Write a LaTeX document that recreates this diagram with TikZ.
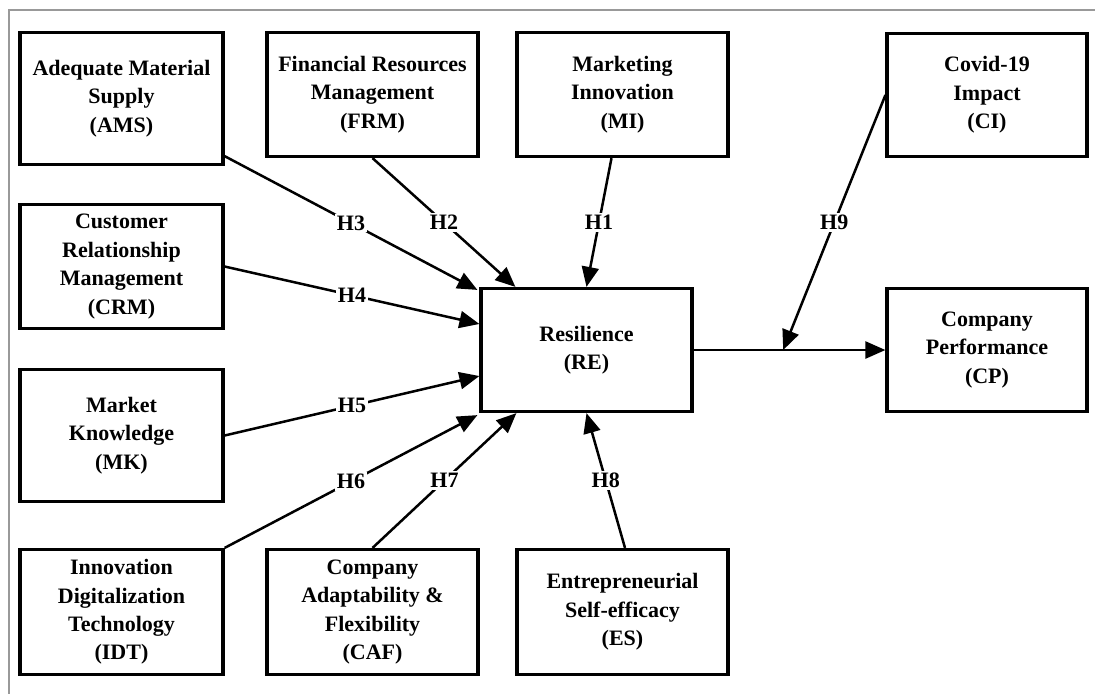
\documentclass[tikz,border=0pt]{standalone}
\usepackage{fontspec}
\setmainfont{Liberation Serif}
\usetikzlibrary{arrows.meta,calc}

\begin{document}
\begin{tikzpicture}[x=0.5pt,y=-0.5pt,>={Triangle[length=10pt,width=8.5pt]},
	blk/.style={draw,line width=1.6pt,align=center,inner sep=0pt,font=\fontsize{11}{14.2}\selectfont\bfseries},
	hyp/.style={fill=white,inner sep=1pt,font=\fontsize{11}{14}\selectfont\bfseries},
	link/.style={->,line width=1.25pt}]
		\useasboundingbox (0,0) rectangle (1095,693);
		\draw[gray!80,line width=1pt] (9,720) -- (9,10) -- (1120,10);

		\node[blk,minimum width=101.5pt,minimum height=66pt] (ams) at (121.5,98.5) {Adequate Material\\Supply\\(AMS)};
		\node[blk,minimum width=101.5pt,minimum height=62pt] (crm) at (121.5,266.5) {Customer\\Relationship\\Management\\(CRM)};
		\node[blk,minimum width=101.5pt,minimum height=66pt] (mk) at (121.5,435.5) {Market\\Knowledge\\(MK)};
		\node[blk,minimum width=101.5pt,minimum height=62.5pt] (idt) at (121.5,612) {Innovation\\Digitalization\\Technology\\(IDT)};

		\node[blk,minimum width=105.5pt,minimum height=62pt] (frm) at (372.5,94.5) {Financial Resources\\Management\\(FRM)};
		\node[blk,minimum width=105.5pt,minimum height=62pt] (mi) at (622.5,94.5) {Marketing\\Innovation\\(MI)};
		\node[blk,minimum width=105.5pt,minimum height=62.5pt] (caf) at (372.5,612) {Company\\Adaptability \&\\Flexibility\\(CAF)};
		\node[blk,minimum width=105.5pt,minimum height=62.5pt] (es) at (622.5,612) {Entrepreneurial\\Self-efficacy\\(ES)};

		\node[blk,minimum width=105.5pt,minimum height=61.5pt] (re) at (586.5,350) {Resilience\\(RE)};
		\node[blk,minimum width=100pt,minimum height=61.5pt] (ci) at (987,95) {Covid-19\\Impact\\(CI)};
		\node[blk,minimum width=100pt,minimum height=61.5pt] (cp) at (987,350) {Company\\Performance\\(CP)};

		\draw[link] ($(ams.south east)+(0,-10)$) -- ($(re.north west)+(-2,3)$) node[hyp,midway]{H3};
		\draw[link] (frm.south) -- ($(re.north west)+(36,0)$) node[hyp,midway]{H2};
		\draw[link] ($(mi.south)+(-11,0)$) -- (re.north) node[hyp,midway]{H1};
		\draw[link] (crm.east) -- ($(re.west)+(0,-26)$) node[hyp,midway]{H4};
		\draw[link] (mk.east) -- ($(re.west)+(0,26)$) node[hyp,midway]{H5};
		\draw[link] (idt.north east) -- ($(re.south west)+(-2,2)$) node[hyp,midway]{H6};
		\draw[link] (caf.north) -- ($(re.south west)+(37,0)$) node[hyp,midway]{H7};
		\draw[link] ($(es.north)+(2.5,0)$) -- (re.south) node[hyp,midway]{H8};

		\draw[link] (re.east) -- (cp.west);
		\coordinate (cimeet) at ($(re.east)!0.467!(cp.west)$);
		\draw[link] (ci.west) -- (cimeet) node[hyp,midway]{H9};
	\end{tikzpicture}
\end{document}
